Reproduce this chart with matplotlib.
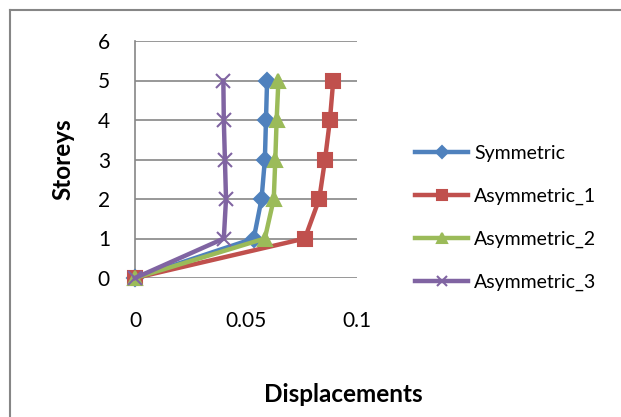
'''
Storey displacement profiles for symmetric and
asymmetric building models
'''

import matplotlib
matplotlib.use('Agg')
import matplotlib.pyplot as plt
from matplotlib.lines import Line2D


##################################

storeys = [0, 1, 2, 3, 4, 5]
symmetric = [0, 0.0535, 0.057, 0.0585, 0.059, 0.0595]
asym_1 = [0, 0.0765, 0.083, 0.0856, 0.0878, 0.0893]
asym_2 = [0, 0.0585, 0.0625, 0.0632, 0.0638, 0.0646]
asym_3 = [0, 0.040, 0.041, 0.0405, 0.040, 0.0398]

seriesNames = ['Symmetric', 'Asymmetric_1', 'Asymmetric_2', 'Asymmetric_3']
xTicks = [0, 0.05, 0.1]
xTickLabels = ['0', '0.05', '0.1']
yTicks = [0, 1, 2, 3, 4, 5, 6]


##################################

plt.rcParams['font.family'] = ['Lato', 'DejaVu Sans']

fig = plt.figure(figsize=(6.21, 4.17), dpi=100)
ax = fig.add_axes([135/621, 1-278/417, 222/621, 237/417])

styles = [('#4F81BD', 'D', 8), ('#C0504D', 's', 9.5), ('#9BBB59', '^', 9.5), ('#8064A2', 'x', 10)]
for vals, name, (col, mk, ms) in zip([symmetric, asym_1, asym_2, asym_3], seriesNames, styles):
  ax.plot(vals, storeys, color=col, lw=3.2, marker=mk, ms=ms, mew=1.5,
          mec=col, mfc=col, label=name, clip_on=False, zorder=3)

ax.set_xlim(0, 0.1)
ax.set_ylim(0, 6)
ax.set_xticks(xTicks)
ax.set_xticklabels(xTickLabels)
ax.set_yticks(yTicks)
ax.tick_params(length=0, labelsize=15)
ax.tick_params(axis='x', pad=24)
ax.tick_params(axis='y', pad=18)
ax.grid(axis='y', color='#868686', lw=1.2)
ax.set_axisbelow(True)
for s in ['top', 'right', 'bottom']:
  ax.spines[s].set_visible(False)
ax.spines['left'].set_color('#868686')
ax.spines['left'].set_linewidth(1.2)

# axis titles
fig.text(63/621, 1-159/417, 'Storeys', rotation=90, ha='center', va='center',
         fontsize=17.5, fontweight='bold')
fig.text(343/621, 1-395/417, 'Displacements', ha='center', va='center',
         fontsize=17.5, fontweight='bold')

# legend
leg = fig.legend(loc='upper left', bbox_to_anchor=(415/621, 1-145/417), frameon=False,
                 fontsize=14, handlelength=2.75, handletextpad=0.28, labelspacing=1.32,
                 borderpad=0, borderaxespad=0, markerscale=0.75)

# chart border (left and top only visible)
fig.add_artist(Line2D([10/621, 10/621], [0, 1-10/417], color='#868686', lw=1.5))
fig.add_artist(Line2D([10/621, 1], [1-10/417, 1-10/417], color='#868686', lw=1.5))

fig.savefig('out.png', dpi=100)
plt.close()
